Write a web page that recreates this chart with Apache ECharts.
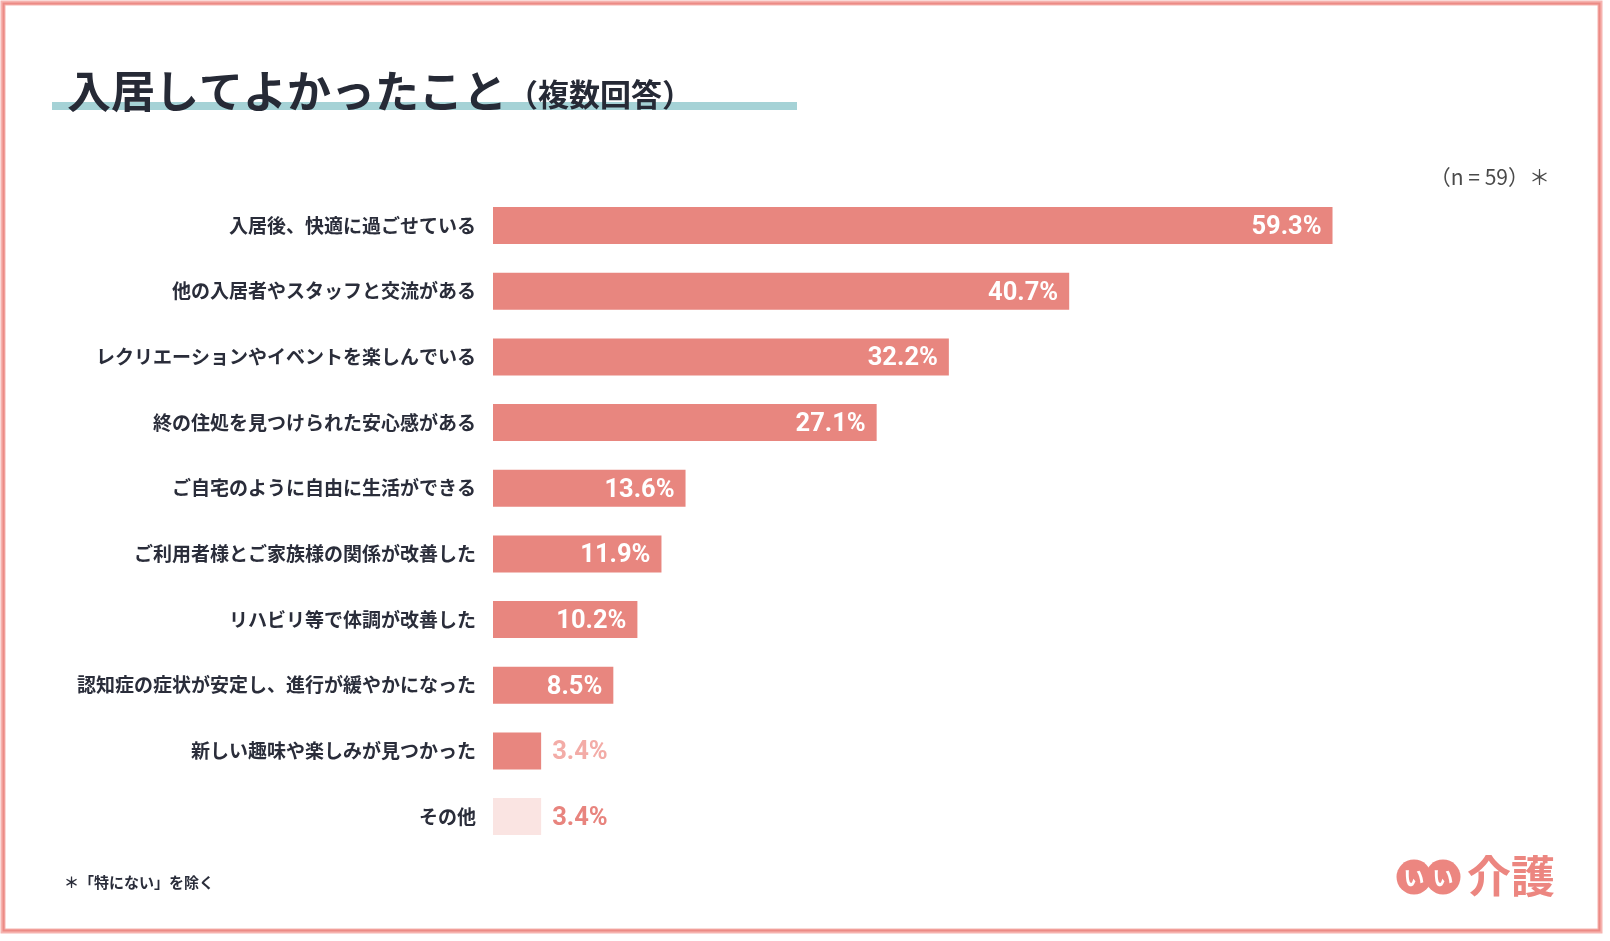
<!DOCTYPE html>
<html>
<head>
<meta charset="utf-8">
<script src="https://cdn.jsdelivr.net/npm/echarts@6/dist/echarts.min.js"></script>
<style>
html,body{margin:0;padding:0;background:#fff;}
#chart{width:1610px;height:941px;}
</style>
</head>
<body>
<div id="chart"></div>
<script>
var categories = [
  '入居後、快適に過ごせている',
  '他の入居者やスタッフと交流がある',
  'レクリエーションやイベントを楽しんでいる',
  '終の住処を見つけられた安心感がある',
  'ご自宅のように自由に生活ができる',
  'ご利用者様とご家族様の関係が改善した',
  'リハビリ等で体調が改善した',
  '認知症の症状が安定し、進行が緩やかになった',
  '新しい趣味や楽しみが見つかった',
  'その他'
];
var values = [59.3, 40.7, 32.2, 27.1, 13.6, 11.9, 10.2, 8.5, 3.4, 3.4];
var titleText = '入居してよかったこと';
var subTitleText = '（複数回答）';
var sampleText = '（n = 59）＊';
var footnoteText = '＊「特にない」を除く';

var JP = '"Noto Sans CJK JP", "Noto Sans", sans-serif';
var NUM = 'Roboto, "Noto Sans", sans-serif';
var BAR = '#e8867f';
var BAR_OTHER = '#fae4e2';

var seriesData = values.map(function (v, i) {
  var isOther = categories[i] === 'その他';
  var small = v < 5;
  return {
    value: v,
    itemStyle: { color: isOther ? BAR_OTHER : BAR },
    label: small ? {
      position: 'right', distance: 11,
      color: isOther ? '#e8847e' : '#f3aca7'
    } : {
      position: 'insideRight', distance: 11, color: '#ffffff'
    }
  };
});

var chart = echarts.init(document.getElementById('chart'));
chart.setOption({
  backgroundColor: '#ffffff',
  animation: false,
  grid: { left: 493, top: 192.7, height: 656.7, width: 991, containLabel: false },
  xAxis: {
    type: 'value', min: 0, max: 70, show: false
  },
  yAxis: {
    type: 'category', data: categories, inverse: true,
    axisLine: { show: false }, axisTick: { show: false },
    axisLabel: {
      margin: 17, fontSize: 19, fontWeight: 'bold',
      color: '#2a2d3a', fontFamily: JP
    }
  },
  series: [{
    type: 'bar', data: seriesData, barWidth: 37,
    label: {
      show: true, fontSize: 25.5, fontWeight: 'bold', fontFamily: NUM,
      verticalAlign: 'middle', offset: [0, 2],
      formatter: function (p) { return p.value.toFixed(1) + '%'; }
    }
  }],
  graphic: [
    { type: 'rect', shape: { x: 3, y: 3, width: 1597, height: 928 },
      style: { fill: 'none', stroke: '#f6b3af', lineWidth: 5 }, z: 10 },
    { type: 'rect', shape: { x: 3.5, y: 3.5, width: 1596, height: 927 },
      style: { fill: 'none', stroke: '#ec8b86', lineWidth: 2 }, z: 11 },
    { type: 'rect', shape: { x: 52, y: 102, width: 745, height: 8 },
      style: { fill: '#a5d2d6' }, z: 1 },
    { type: 'text', x: 67, y: 91, z: 2,
      style: { text: titleText, font: 'bold 44px ' + JP, fill: '#262a36',
        verticalAlign: 'middle', align: 'left' } },
    { type: 'text', x: 507, y: 94, z: 2,
      style: { text: subTitleText, font: 'bold 31px ' + JP, fill: '#262a36',
        verticalAlign: 'middle', align: 'left' } },
    { type: 'text', x: 1550, y: 177, z: 2,
      style: { text: sampleText, font: '21px ' + JP, fill: '#4a4a4a',
        verticalAlign: 'middle', align: 'right' } },
    { type: 'text', x: 64, y: 882, z: 2,
      style: { text: footnoteText, font: 'bold 15px ' + JP, fill: '#2a2d3a',
        verticalAlign: 'middle', align: 'left' } },
    { type: 'circle', shape: { cx: 1414, cy: 877, r: 17.5 }, style: { fill: '#ec8680' }, z: 2 },
    { type: 'circle', shape: { cx: 1443, cy: 877, r: 17.5 }, style: { fill: '#ec8680' }, z: 2 },
    { type: 'text', x: 1414, y: 877, z: 3,
      style: { text: 'い', font: 'bold 21px ' + JP, fill: '#ffffff', align: 'center', verticalAlign: 'middle' } },
    { type: 'text', x: 1443, y: 877, z: 3,
      style: { text: 'い', font: 'bold 21px ' + JP, fill: '#ffffff', align: 'center', verticalAlign: 'middle' } },
    { type: 'text', x: 1467, y: 876, z: 3,
      style: { text: '介護', font: 'bold 44px ' + JP, fill: '#ec8680', align: 'left', verticalAlign: 'middle' } }
  ]
});
</script>
</body>
</html>
